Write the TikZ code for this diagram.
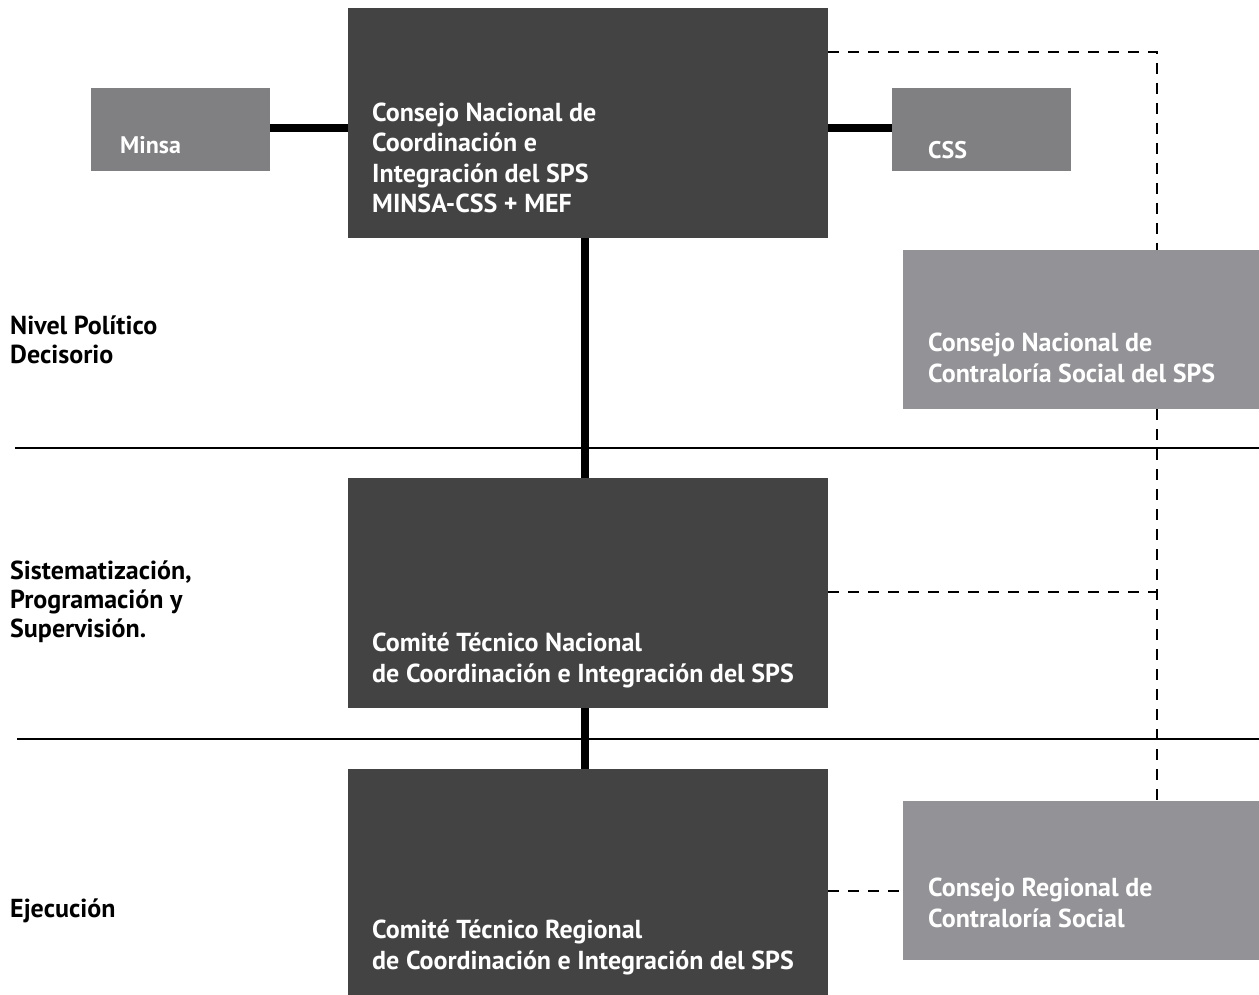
\documentclass[tikz,border=0pt]{standalone}
\usepackage{fontspec}
\setmainfont{PT Sans}
\definecolor{darkbox}{HTML}{434343}
\definecolor{midgray}{HTML}{808083}
\definecolor{lightgray}{HTML}{939397}
\begin{document}
\begin{tikzpicture}[x=1pt,y=-1pt,
  box/.style={rectangle,inner sep=0pt,outer sep=0pt,anchor=north west},
  darkb/.style={box,fill=darkbox},
  midb/.style={box,fill=midgray},
  lightb/.style={box,fill=lightgray},
  wtext/.style={anchor=base west,inner sep=0pt,text=white,font=\fontsize{26}{30.5}\selectfont\bfseries,align=left},
  btext/.style={anchor=base west,inner sep=0pt,text=black,font=\fontsize{26}{29}\selectfont\bfseries,align=left},
  thickc/.style={line width=8pt},
  rule/.style={line width=2.5pt},
  dashline/.style={line width=2.5pt,dash pattern=on 11pt off 9pt}
]
\useasboundingbox (0,0) rectangle (1259,995);
% boxes
\node[darkb,minimum width=480pt,minimum height=230pt] (top) at (348,8) {};
\node[midb,minimum width=179pt,minimum height=83pt] (minsa) at (91,88) {};
\node[midb,minimum width=179pt,minimum height=83pt] (css) at (892,88) {};
\node[lightb,minimum width=356pt,minimum height=159pt] (cncs) at (903,250) {};
\node[darkb,minimum width=480pt,minimum height=230pt] (mid) at (348,478) {};
\node[darkb,minimum width=480pt,minimum height=226pt] (bot) at (348,769) {};
\node[lightb,minimum width=356pt,minimum height=159pt] (crcs) at (903,801) {};
% rules
\coordinate (r1a) at (15,448); \coordinate (r1b) at (1259,448);
\coordinate (r2a) at (17,739); \coordinate (r2b) at (1259,739);
\draw[rule] (r1a) -- (r1b);
\draw[rule] (r2a) -- (r2b);
% thick connectors
\draw[thickc] (minsa.east |- 0,128) -- (top.west |- 0,128);
\draw[thickc] (top.east |- 0,128) -- (css.west |- 0,128);
\draw[thickc] (top.south -| 585,0) -- (mid.north -| 585,0);
\draw[thickc] (mid.south -| 585,0) -- (bot.north -| 585,0);
% dashed connectors
\coordinate (dtop) at (1157,52);
\coordinate (dmid) at (1157,592);
\draw[dashline] (top.east |- dtop) -- (dtop) -- (cncs.north -| dtop);
\draw[dashline] (cncs.south -| dtop) -- (crcs.north -| dtop);
\draw[dashline] (mid.east |- dmid) -- (dmid);
\draw[dashline] (bot.east |- 0,891) -- (crcs.west |- 0,891);
% texts (base = baseline of last line)
\node[wtext] (ttop) at (372,213) {Consejo Nacional de\\Coordinación e\\Integración del SPS\\MINSA-CSS + MEF};
\node[wtext,font=\fontsize{24}{30}\selectfont\bfseries] (tminsa) at (120,154) {Minsa};
\node[wtext,font=\fontsize{24}{30}\selectfont\bfseries] (tcss) at (928,159) {CSS};
\node[wtext] (tcncs) at (928,382) {Consejo Nacional de\\Contraloría Social del SPS};
\node[wtext] (tmid) at (372,682) {Comité Técnico Nacional\\de Coordinación e Integración del SPS};
\node[wtext] (tbot) at (372,969) {Comité Técnico Regional\\de Coordinación e Integración del SPS};
\node[wtext] (tcrcs) at (928,927) {Consejo Regional de\\Contraloría Social};
\node[btext] (l1) at (10,363) {Nivel Político\\Decisorio};
\node[btext] (l2) at (10,637) {Sistematización,\\Programación y\\Supervisión.};
\node[btext] (l3) at (10,917) {Ejecución};
\end{tikzpicture}
\end{document}
